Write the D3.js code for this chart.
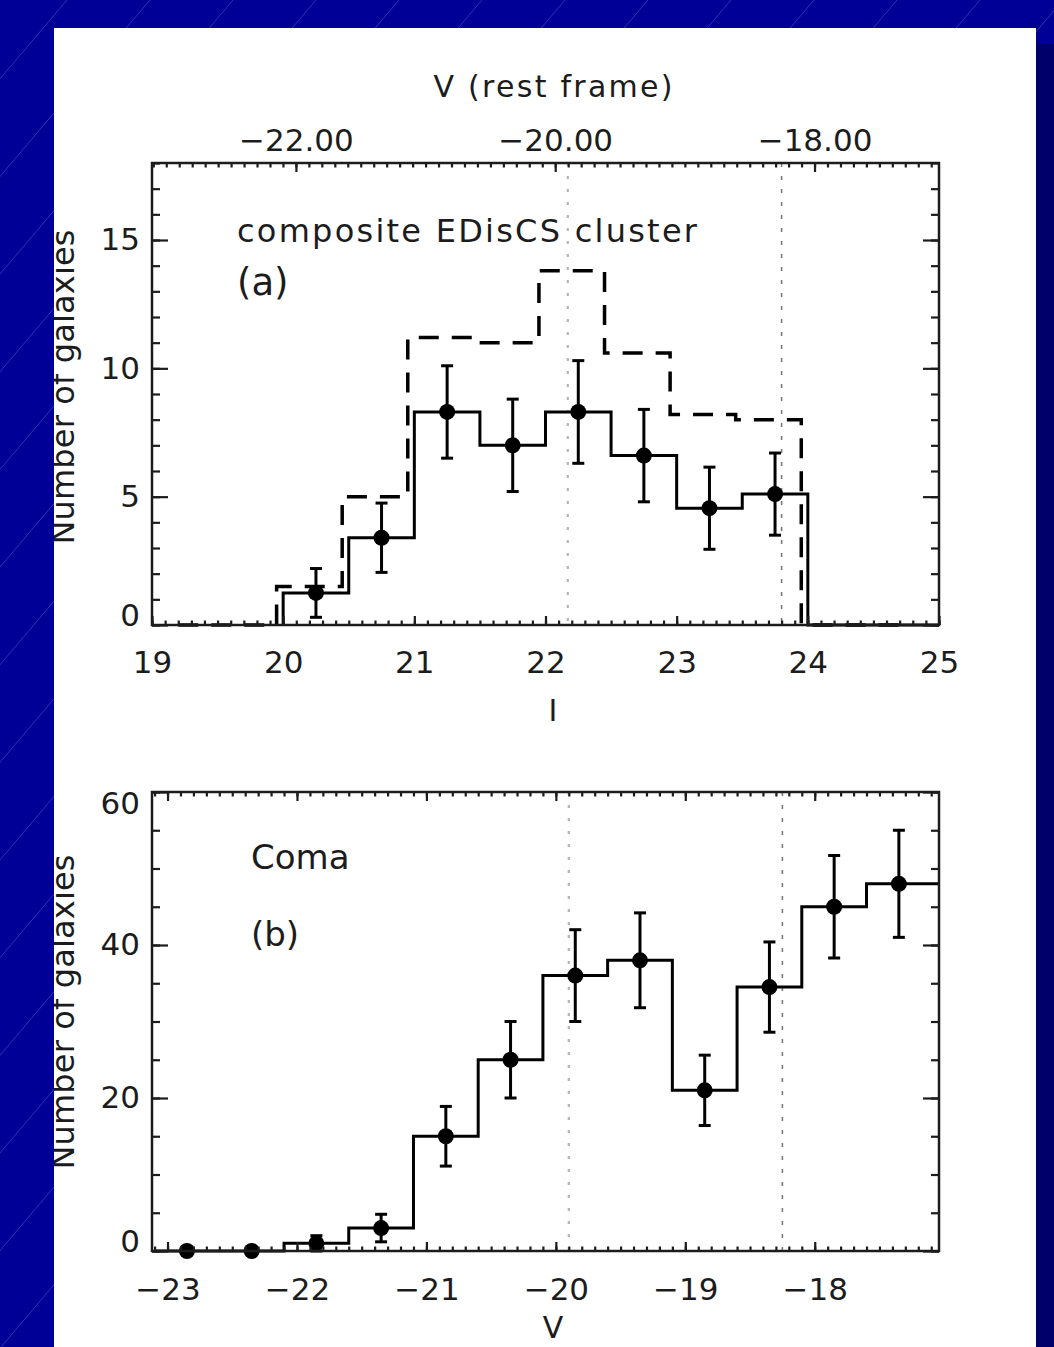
<!DOCTYPE html>
<html>
<head>
<meta charset="utf-8">
<script src="https://cdn.jsdelivr.net/npm/d3@7"></script>
<style>
  body { margin: 0; background: #000096; }
  svg { display: block; }
  text { font-family: "DejaVu Sans", sans-serif; fill: #1c1c1c; }
</style>
</head>
<body>
<svg id="fig"></svg>
<script>
// luminosity functions: composite EDisCS cluster (a) and Coma (b)

const W = 1054, H = 1347;

// ---- panel (a): I band, 0.5 mag bins ----
const aEdges  = [20, 20.5, 21, 21.5, 22, 22.5, 23, 23.5, 24, 24.5];
const aCounts = [1.25, 3.4, 8.3, 7.0, 8.3, 6.6, 4.55, 5.1, 0, 0];
const aPointI   = [20.25, 20.75, 21.25, 21.75, 22.25, 22.75, 23.25, 23.75];
const aPointN   = [1.25, 3.4, 8.3, 7.0, 8.3, 6.6, 4.55, 5.1];
const aPointErr = [0.95, 1.35, 1.8, 1.8, 2.0, 1.8, 1.6, 1.6];
// dashed histogram, given at bin centres
const aDashI = [19.2, 19.7, 20.2, 20.7, 21.2, 21.7, 22.2, 22.7, 23.2, 23.7, 24.2, 24.7];
const aDashN = [0, 0, 1.5, 5.0, 11.2, 11.0, 13.8, 10.6, 8.2, 8.0, 0, 0];
const aMarkI = [22.17, 23.8];
const aXTicks = [19, 20, 21, 22, 23, 24, 25];
const aYTicks = [0, 5, 10, 15];
const aTopTicks = [-22, -20, -18];

// ---- panel (b): Coma, V band ----
const bEdges   = [-23.1, -22.6, -22.1, -21.6, -21.1, -20.6, -20.1, -19.6, -19.1, -18.6, -18.1, -17.6];
const bCounts  = [0, 0, 1, 3, 15, 25, 36, 38, 21, 34.5, 45, 48];
const bCenters = [-22.85, -22.35, -21.85, -21.35, -20.85, -20.35, -19.85, -19.35, -18.85, -18.35, -17.85, -17.35];
const bErr     = [0, 0, 1, 1.8, 3.9, 5, 6, 6.2, 4.6, 5.9, 6.7, 7];
const bMarkV = [-19.9, -18.25];
const bXTicks = [-23, -22, -21, -20, -19, -18];
const bYTicks = [0, 20, 40, 60];

const svg = d3.select("#fig").attr("width", W).attr("height", H);

// slide background: blue with faint diagonal lines, dark shadow, white paper
svg.append("rect").attr("width", W).attr("height", H).attr("fill", "#000096");
svg.append("g").selectAll("line")
  .data(d3.range(-99, W + 1200, 83))
  .join("line")
    .attr("x1", d => d).attr("y1", 0)
    .attr("x2", d => d - 0.85 * H).attr("y2", H)
    .attr("stroke", "#8a8aff").attr("stroke-opacity", 0.35).attr("stroke-width", 1);
svg.append("rect").attr("x", 1036).attr("y", 44).attr("width", 18).attr("height", H - 44).attr("fill", "#00006a");
svg.append("rect").attr("x", 54).attr("y", 28).attr("width", 982).attr("height", H - 28).attr("fill", "#fff");

svg.append("clipPath").attr("id", "paper")
  .append("rect").attr("x", 54).attr("y", 28).attr("width", 982).attr("height", H - 28);
const fig = svg.append("g").attr("clip-path", "url(#paper)");

// scales
const xA = d3.scaleLinear().domain([19, 25]).range([152, 939]);
const yA = d3.scaleLinear().domain([0, 18]).range([625, 163]);
const vA = d3.scaleLinear().domain([-23.11, -17.04]).range([152, 939]);   // rest-frame V on top
const xB = d3.scaleLinear().domain([-23.12, -17.04]).range([152, 939]);
const yB = d3.scaleLinear().domain([0, 60]).range([1251, 792]);

function styleAxis(g) {
  g.select(".domain").remove();
  g.selectAll(".tick line").attr("stroke", "#1c1c1c").attr("stroke-width", 2.2);
  g.attr("font-size", 31).attr("font-family", null);
}

// frame + ticks for one panel
function axes(x, y, o) {
  const [x0, x1] = x.range(), [yb, yt] = y.range();

  // bottom
  fig.append("g").attr("transform", `translate(0,${yb})`)
    .call(d3.axisBottom(x).tickValues(o.xMinor).tickSize(-4.5).tickFormat(""))
    .call(styleAxis);
  fig.append("g").attr("transform", `translate(0,${yb})`)
    .call(d3.axisBottom(x).tickValues(o.xTicks).tickSize(-9).tickFormat(d3.format("d")))
    .call(styleAxis)
    .call(g => g.selectAll("text").attr("y", o.xLabelY).attr("dy", null));

  // top
  const tx = o.top || x;
  fig.append("g").attr("transform", `translate(0,${yt})`)
    .call(d3.axisTop(tx).tickValues(o.topMinor || o.xMinor).tickSize(-4.5).tickFormat(""))
    .call(styleAxis);
  fig.append("g").attr("transform", `translate(0,${yt})`)
    .call(d3.axisTop(tx).tickValues(o.topTicks || o.xTicks).tickSize(-9)
      .tickFormat(o.top ? d3.format(".2f") : ""))
    .call(styleAxis)
    .call(g => g.selectAll("text").attr("y", -12).attr("dy", null));

  // left + right
  const [d0, d1] = y.domain();
  fig.append("g").attr("transform", `translate(${x0},0)`)
    .call(d3.axisLeft(y).tickValues(o.yMinor).tickSize(-8).tickFormat(""))
    .call(styleAxis);
  fig.append("g").attr("transform", `translate(${x0},0)`)
    .call(d3.axisLeft(y).tickValues(o.yTicks).tickSize(-16).tickPadding(12))
    .call(styleAxis)
    .call(g => g.selectAll("text").attr("y", d => d === d0 ? -9 : d === d1 ? 12 : 0));
  fig.append("g").attr("transform", `translate(${x1},0)`)
    .call(d3.axisRight(y).tickValues(o.yMinor).tickSize(-8).tickFormat(""))
    .call(styleAxis);
  fig.append("g").attr("transform", `translate(${x1},0)`)
    .call(d3.axisRight(y).tickValues(o.yTicks).tickSize(-16).tickFormat(""))
    .call(styleAxis);

  fig.append("rect")
    .attr("x", x0).attr("y", yt).attr("width", x1 - x0).attr("height", yb - yt)
    .attr("fill", "none").attr("stroke", "#1c1c1c").attr("stroke-width", 2.5);
}

function markLines(x, y, vals) {
  const [yb, yt] = y.range();
  fig.append("g").selectAll("line").data(vals).join("line")
    .attr("x1", d => x(d)).attr("x2", d => x(d))
    .attr("y1", yt).attr("y2", yb)
    .attr("stroke", (d, i) => i === 0 ? "#b4b4b4" : "#7a7a7a")
    .attr("stroke-width", (d, i) => i === 0 ? 2.2 : 1.6)
    .attr("stroke-dasharray", (d, i) => i === 0 ? "3,10" : "4,9");
}

function errPoints(x, y, xs, ns, errs) {
  const g = fig.append("g").attr("stroke", "#000").attr("stroke-width", 3);
  xs.forEach((v, i) => {
    if (errs[i] > 0) {
      const cx = x(v), ylo = y(ns[i] - errs[i]), yhi = y(ns[i] + errs[i]);
      g.append("line").attr("x1", cx).attr("x2", cx).attr("y1", ylo).attr("y2", yhi);
      g.append("line").attr("x1", cx - 6).attr("x2", cx + 6).attr("y1", ylo).attr("y2", ylo);
      g.append("line").attr("x1", cx - 6).attr("x2", cx + 6).attr("y1", yhi).attr("y2", yhi);
    }
  });
  fig.append("g").selectAll("circle").data(xs).join("circle")
    .attr("cx", d => x(d)).attr("cy", (d, i) => y(ns[i])).attr("r", 8).attr("fill", "#000");
}

// ================= panel (a) =================
markLines(xA, yA, aMarkI);

const stepAfterA = d3.line().x(d => xA(d[0])).y(d => yA(d[1])).curve(d3.curveStepAfter);
const solidA = [[aEdges[0], 0], ...aEdges.map((e, i) => [e, aCounts[i]]), [xA.domain()[1], 0]];
fig.append("path").attr("d", stepAfterA(solidA))
  .attr("fill", "none").attr("stroke", "#000").attr("stroke-width", 3);

const stepMidA = d3.line().x(d => xA(d[0])).y(d => yA(d[1])).curve(d3.curveStep);
fig.append("path").attr("d", stepMidA(aDashI.map((v, i) => [v, aDashN[i]])))
  .attr("fill", "none").attr("stroke", "#000").attr("stroke-width", 3.5)
  .attr("stroke-dasharray", "20,13");

errPoints(xA, yA, aPointI, aPointN, aPointErr);

axes(xA, yA, {
  xTicks: aXTicks, xMinor: d3.range(190, 251).map(d => d / 10), xLabelY: 48,
  top: vA, topTicks: aTopTicks, topMinor: d3.range(-231, -170).map(d => d / 10),
  yTicks: aYTicks, yMinor: d3.range(0, 19)
});

fig.append("text").attr("x", 553).attr("y", 97).attr("text-anchor", "middle")
  .attr("font-size", 30).attr("textLength", 239).attr("lengthAdjust", "spacing")
  .text("V (rest frame)");
fig.append("text").attr("x", 553).attr("y", 721).attr("text-anchor", "middle")
  .attr("font-size", 30).text("I");
fig.append("text").attr("transform", "translate(74,387) rotate(-90)").attr("text-anchor", "middle")
  .attr("font-size", 32).attr("textLength", 315).attr("lengthAdjust", "spacing")
  .text("Number of galaxies");
fig.append("text").attr("x", 237).attr("y", 242)
  .attr("font-size", 32).attr("textLength", 460).attr("lengthAdjust", "spacing")
  .text("composite EDisCS cluster");
fig.append("text").attr("x", 237).attr("y", 295).attr("font-size", 37).text("(a)");

// ================= panel (b) =================
markLines(xB, yB, bMarkV);

const stepAfterB = d3.line().x(d => xB(d[0])).y(d => yB(d[1])).curve(d3.curveStepAfter);
const solidB = [...bEdges.map((e, i) => [e, bCounts[i]]), [xB.domain()[1], bCounts[bCounts.length - 1]]];
fig.append("path").attr("d", stepAfterB(solidB))
  .attr("fill", "none").attr("stroke", "#000").attr("stroke-width", 3);

errPoints(xB, yB, bCenters, bCounts, bErr);

axes(xB, yB, {
  xTicks: bXTicks, xMinor: d3.range(-231, -170).map(d => d / 10), xLabelY: 49,
  yTicks: bYTicks, yMinor: d3.range(0, 61, 5)
});

fig.append("text").attr("x", 553).attr("y", 1338).attr("text-anchor", "middle")
  .attr("font-size", 30).text("V");
fig.append("text").attr("transform", "translate(74,1012) rotate(-90)").attr("text-anchor", "middle")
  .attr("font-size", 32).attr("textLength", 315).attr("lengthAdjust", "spacing")
  .text("Number of galaxies");
fig.append("text").attr("x", 251).attr("y", 869).attr("font-size", 34).text("Coma");
fig.append("text").attr("x", 251).attr("y", 946).attr("font-size", 34).text("(b)");
</script>
</body>
</html>
